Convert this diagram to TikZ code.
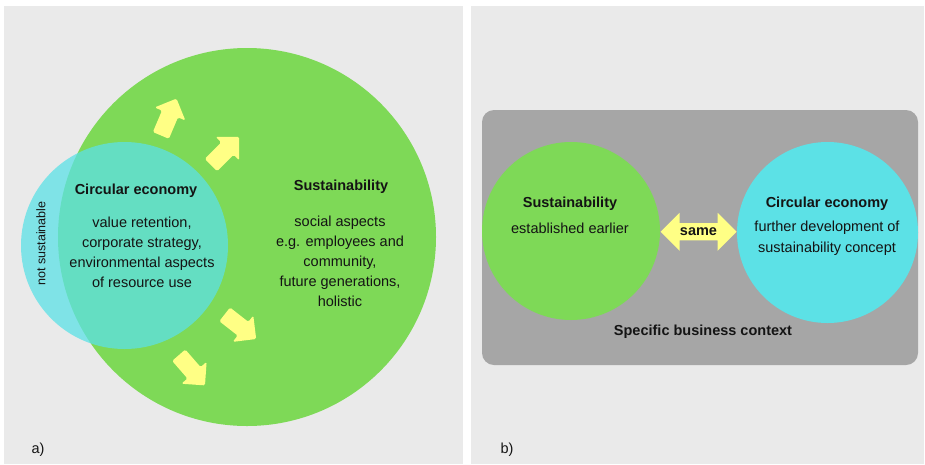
\documentclass[tikz,border=0pt]{standalone}
\usepackage{fontspec}
\setmainfont{Liberation Sans}
\usepackage{tikz}
\usetikzlibrary{shapes.arrows,calc}
\definecolor{corpainel}{RGB}{234,234,234}
\definecolor{corverde}{RGB}{126,217,87}
\definecolor{corciano}{RGB}{92,225,230}
\definecolor{coramarelo}{RGB}{255,255,133}
\definecolor{corcinza}{RGB}{166,166,166}
\definecolor{cortexto}{RGB}{20,20,20}

\begin{document}
\begin{tikzpicture}[x=1pt,y=-1pt,
  every node/.style={font=\fontsize{14.5}{20}\selectfont, text=cortexto},
  circulo/.style={circle, inner sep=0pt},
  setinha/.style={single arrow, fill=coramarelo, inner xsep=0pt, inner ysep=8.5pt,
    minimum height=40pt, single arrow head extend=8pt, rounded corners=1.5pt},
  titulo/.style={font=\fontsize{14.5}{20}\selectfont\bfseries},
  texto/.style={align=center}]
\useasboundingbox (0,0) rectangle (925,464);
% fundo dos paineis
\fill[corpainel] (4,6) rectangle (463,464);
\fill[corpainel] (471,6) rectangle (924,464);

% painel a)
\node[circulo, fill=corverde, minimum size=378pt] (susta) at (247,237) {};
\node[circulo, fill=corciano, fill opacity=0.75, minimum size=207pt] (cea) at (124.5,245.5) {};
\node[setinha, rotate=67] (seta1) at (167,121) {};
\node[setinha, rotate=45] (seta2) at (222,154) {};
\node[setinha, rotate=-38] (seta3) at (237,324) {};
\node[setinha, rotate=-49] (seta4) at (189,367) {};
\node[titulo] (tituloce) at (136,191) {Circular economy};
\node[texto] (textoce) at (142,252.5) {value retention,\\corporate strategy,\\environmental aspects\\of resource use};
\node[rotate=90, font=\fontsize{12.5}{15}\selectfont] (naosust) at (41,243.5) {not sustainable};
\node[titulo] (titulosust) at (341,187) {Sustainability};
\node[texto] (textosust) at (340,261.5) {social aspects\\e.g. employees and\\community,\\future generations,\\holistic};
\node (rotuloa) at (38,450) {a)};

% painel b)
\fill[corcinza, rounded corners=12pt] (482,110) rectangle (918,365);
\node[circulo, fill=corverde, minimum size=178pt] (sustb) at (571,231) {};
\node[circulo, fill=corciano, minimum size=181pt] (ceb) at (827.5,232.5) {};
\node[double arrow, fill=coramarelo, inner xsep=0pt, minimum height=76pt, minimum width=38pt,
  double arrow head extend=9pt, titulo] (mesmo) at ($(sustb.east)!0.5!(ceb.west)$) {same};
\node[titulo] (titulosustb) at (570,204) {Sustainability};
\node (textosustb) at (570,228) {established earlier};
\node[titulo] (titulceb) at (827,204) {Circular economy};
\node[texto, font=\fontsize{14.5}{21}\selectfont] (textoceb) at (827,238.5) {further development of\\sustainability concept};
\node[titulo] (contexto) at (703,332) {Specific business context};
\node (rotulob) at (507,450) {b)};
\end{tikzpicture}
\end{document}
